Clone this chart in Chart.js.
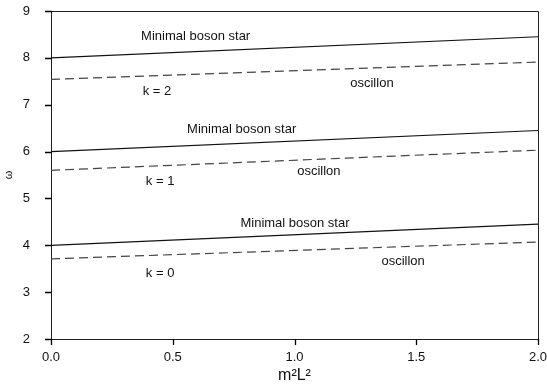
<!DOCTYPE html>
<html>
<head>
<meta charset="utf-8">
<script src="https://cdn.jsdelivr.net/npm/chart.js@4/dist/chart.umd.min.js"></script>
<style>
  html, body { margin: 0; padding: 0; background: #fff; overflow: hidden; }
  #wrap { width: 547px; height: 385px; position: relative; }
  canvas { display: block; }
</style>
</head>
<body>
<div id="wrap"><canvas id="c"></canvas></div>
<script>
// m^2 L^2 at the two ends of each (straight) line
const xVals = [0, 2];

const bosonK2 = [8.0, 8.45];
const oscK2 = [7.54, 7.91];
const bosonK1 = [6.0, 6.45];
const oscK1 = [5.6, 6.03];
const bosonK0 = [4.0, 4.45];
const oscK0 = [3.71, 4.07];

const xTicks = [0, 0.5, 1, 1.5, 2];
const yTicks = [2, 3, 4, 5, 6, 7, 8, 9];

// text notes placed in data units
const notes = [
  { text: "Minimal boson star", x: 0.594, y: 8.45 },
  { text: "k = 2", x: 0.435, y: 7.28 },
  { text: "oscillon", x: 1.318, y: 7.46 },
  { text: "Minimal boson star", x: 0.783, y: 6.475 },
  { text: "oscillon", x: 1.10, y: 5.57 },
  { text: "k = 1", x: 0.448, y: 5.36 },
  { text: "Minimal boson star", x: 1.002, y: 4.47 },
  { text: "oscillon", x: 1.446, y: 3.665 },
  { text: "k = 0", x: 0.448, y: 3.39 }
];

const FONT = "'Liberation Sans', Arial, sans-serif";

function solid(label, ys) {
  return {
    label,
    data: xVals.map((x, i) => ({ x, y: ys[i] })),
    borderColor: "#111",
    borderWidth: 1.2,
    pointRadius: 0,
    fill: false,
    tension: 0
  };
}

function dashed(label, ys) {
  return {
    label,
    data: xVals.map((x, i) => ({ x, y: ys[i] })),
    borderColor: "#444",
    borderWidth: 1.2,
    borderDash: [9, 5],
    pointRadius: 0,
    fill: false,
    tension: 0
  };
}

const frameAndNotes = {
  id: "frameAndNotes",
  afterDraw(chart) {
    const { ctx, chartArea: a, scales } = chart;
    ctx.save();
    ctx.strokeStyle = "#222";
    ctx.lineWidth = 1;
    ctx.beginPath();
    ctx.moveTo(a.left, a.top + 0.5);
    ctx.lineTo(a.right + 0.5, a.top + 0.5);
    ctx.lineTo(a.right + 0.5, a.bottom);
    ctx.stroke();

    // outward tick marks
    ctx.strokeStyle = "#000";
    ctx.lineWidth = 1.3;
    ctx.beginPath();
    xTicks.forEach(v => {
      const px = Math.round(scales.x.getPixelForValue(v)) + 0.5;
      ctx.moveTo(px, a.bottom);
      ctx.lineTo(px, a.bottom + 6);
    });
    yTicks.forEach(v => {
      const py = Math.round(scales.y.getPixelForValue(v)) + 0.5;
      ctx.moveTo(a.left - 6, py);
      ctx.lineTo(a.left + 0.5, py);
    });
    ctx.stroke();

    ctx.fillStyle = "#111";
    ctx.font = "13px " + FONT;
    ctx.textAlign = "center";
    ctx.textBaseline = "middle";
    notes.forEach(n => {
      ctx.fillText(n.text, scales.x.getPixelForValue(n.x), scales.y.getPixelForValue(n.y));
    });
    ctx.restore();
  }
};

new Chart(document.getElementById("c"), {
  type: "line",
  data: {
    datasets: [
      solid("boson k=2", bosonK2),
      dashed("oscillon k=2", oscK2),
      solid("boson k=1", bosonK1),
      dashed("oscillon k=1", oscK1),
      solid("boson k=0", bosonK0),
      dashed("oscillon k=0", oscK0)
    ]
  },
  options: {
    responsive: true,
    maintainAspectRatio: false,
    animation: false,
    parsing: false,
    layout: { padding: { top: 11, right: 0, left: 0, bottom: 0 } },
    plugins: { legend: { display: false }, tooltip: { enabled: false } },
    scales: {
      x: {
        type: "linear",
        min: 0,
        max: 2,
        afterBuildTicks: s => { s.ticks = xTicks.map(v => ({ value: v })); },
        afterFit: s => { s.height = 46; s.paddingRight = 9; s.paddingLeft = 0; },
        ticks: {
          color: "#111",
          font: { size: 13, family: FONT },
          padding: 5,
          maxRotation: 0,
          callback: v => Number(v).toFixed(1)
        },
        grid: { display: false, tickLength: 6 },
        border: { display: true, color: "#222", width: 1 },
        title: { display: true, text: "m²L²", color: "#111", font: { size: 16, family: FONT }, padding: { top: 2, bottom: 0 } }
      },
      y: {
        type: "linear",
        min: 2,
        max: 9,
        afterBuildTicks: s => { s.ticks = yTicks.map(v => ({ value: v })); },
        afterFit: s => { s.width = 51; s.paddingTop = 0; s.paddingBottom = 0; },
        ticks: {
          color: "#111",
          font: { size: 13, family: FONT },
          padding: 13
        },
        grid: { display: false },
        border: { display: true, color: "#222", width: 1 },
        title: { display: true, text: "ω", color: "#111", font: { size: 11, family: FONT }, padding: { top: 2, bottom: 0 } }
      }
    }
  },
  plugins: [frameAndNotes]
});
</script>
</body>
</html>
